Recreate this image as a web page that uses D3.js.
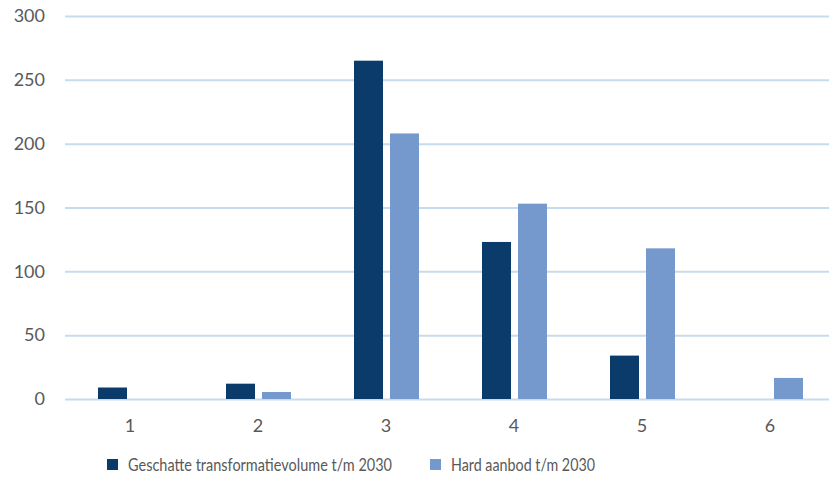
<!DOCTYPE html>
<html><head><meta charset="utf-8">
<script src="https://cdn.jsdelivr.net/npm/d3@7/dist/d3.min.js"></script>
<style>body{margin:0;background:#fff}svg{display:block}</style>
</head><body><svg id="c" width="829" height="486"></svg>
<script>
const categories = ["1","2","3","4","5","6"];
const seriesNames = ["Geschatte transformatievolume t/m 2030","Hard aanbod t/m 2030"];
const transformatie = [9, 12, 265, 123, 34, 0];
const hardAanbod = [0, 5.5, 208, 153, 118, 16.5];
const yTicks = [0, 50, 100, 150, 200, 250, 300];
const colors = ["#0a3b6a", "#7599cd"];

const svg = d3.select("#c");
const font = "Lato, 'Open Sans', sans-serif";
const x = d3.scaleBand().domain(categories).range([66, 834]).paddingInner(0).paddingOuter(0);
const y = d3.scaleLinear().domain([0, 300]).range([399, 16]);
const xs = d3.scaleBand().domain([0,1]).range([32, 97]).paddingInner(7/36).paddingOuter(0);

// gridlines
const gy = svg.append("g").attr("transform","translate(65,0)")
  .call(d3.axisLeft(y).tickValues(yTicks).tickSize(-770).tickPadding(20));
gy.select(".domain").remove();
gy.selectAll(".tick line").attr("stroke","#c6dbee").attr("stroke-width",2);
gy.selectAll(".tick text").attr("fill","#595959").style("font-family",font).style("font-size","18px");

const gx = svg.append("g").attr("transform","translate(0,399)")
  .call(d3.axisBottom(x).tickSize(0).tickPadding(20));
gx.select(".domain").remove();
gx.selectAll(".tick text").attr("fill","#595959").style("font-family",font).style("font-size","18px");

const data = [transformatie, hardAanbod];
data.forEach((vals, si) => {
  svg.append("g").selectAll("rect").data(vals).join("rect")
    .attr("x", (d,i) => x(categories[i]) + xs(si))
    .attr("width", xs.bandwidth())
    .attr("y", d => y(d))
    .attr("height", d => y(0) - y(d))
    .attr("fill", colors[si]);
});

// legend
const legX = [107, 430];
const legLen = [264, 144];
seriesNames.forEach((n, i) => {
  const g = svg.append("g").attr("transform", `translate(${legX[i]},459)`);
  g.append("rect").attr("width",11).attr("height",11).attr("fill",colors[i]);
  g.append("text").attr("x",21).attr("y",12).text(n)
    .attr("textLength", legLen[i]).attr("lengthAdjust","spacingAndGlyphs")
    .attr("fill","#595959").style("font-family",font).style("font-size","16.5px");
});
</script></body></html>
